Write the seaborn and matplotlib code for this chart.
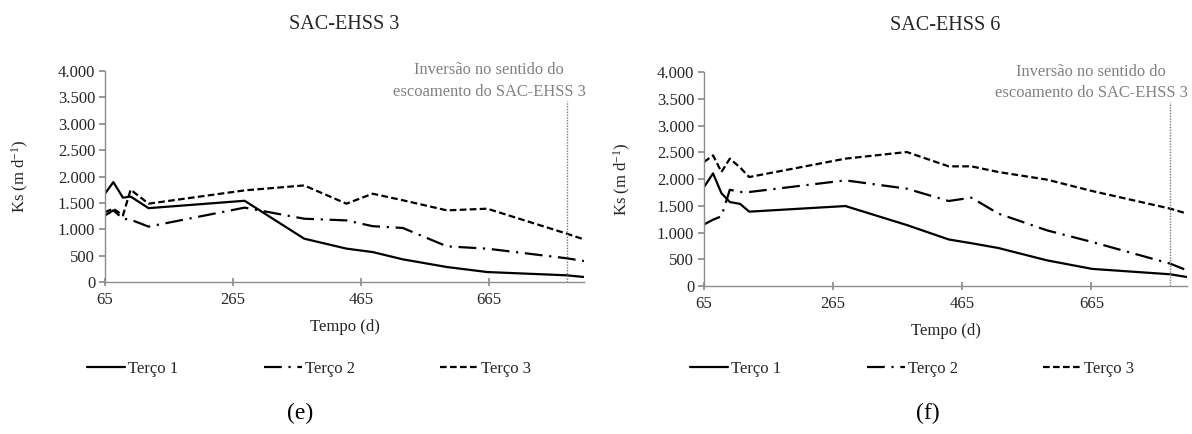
import matplotlib
matplotlib.use("Agg")
import matplotlib.pyplot as plt
import matplotlib.ticker as mticker
import seaborn as sns
import pandas as pd

# ---------------- data ----------------
series_names = ["Terço 1", "Terço 2", "Terço 3"]

days_e = [65, 78, 93, 105, 133, 283, 376, 442, 483, 530, 599, 662, 786, 813]
e_terco1 = [1675, 1894, 1598, 1620, 1400, 1540, 822, 633, 568, 430, 284, 189, 127, 95]
e_terco2 = [1263, 1358, 1200, 1182, 1050, 1410, 1200, 1168, 1058, 1025, 676, 632, 450, 398]
e_terco3 = [1326, 1390, 1263, 1750, 1485, 1737, 1831, 1485, 1674, 1550, 1358, 1390, 917, 808]

days_f = [65, 79, 92, 105, 121, 135, 284, 379, 444, 479, 521, 596, 666, 787, 813]
f_terco1 = [1850, 2105, 1735, 1570, 1535, 1390, 1495, 1140, 870, 800, 710, 480, 320, 219, 168]
f_terco2 = [1150, 1240, 1303, 1800, 1757, 1757, 1975, 1820, 1589, 1652, 1353, 1041, 823, 418, 293]
f_terco3 = [2318, 2443, 2131, 2381, 2215, 2037, 2381, 2505, 2237, 2237, 2131, 1989, 1776, 1447, 1353]

titles = ["SAC-EHSS 3", "SAC-EHSS 6"]
panel_labels = ["(e)", "(f)"]
x_ticks = [65, 265, 465, 665]
y_ticks = [0, 500, 1000, 1500, 2000, 2500, 3000, 3500, 4000]
inversion_day = 787
annotation = "Inversão no sentido do\nescoamento do SAC-EHSS 3"


def long_df(days, s1, s2, s3):
    rows = []
    for name, vals in zip(series_names, [s1, s2, s3]):
        for d, v in zip(days, vals):
            rows.append({"Tempo": d, "Ks": v, "Série": name})
    return pd.DataFrame(rows)


df_e = long_df(days_e, e_terco1, e_terco2, e_terco3)
df_f = long_df(days_f, f_terco1, f_terco2, f_terco3)

# ---------------- style ----------------
sns.set_theme(style="white")
plt.rcParams["font.family"] = ["Liberation Serif", "DejaVu Serif"]
plt.rcParams["mathtext.fontset"] = "custom"
plt.rcParams["mathtext.rm"] = "Liberation Serif"
plt.rcParams["mathtext.it"] = "Liberation Serif:italic"

TXT = "#262626"
AXC = "#8c8c8c"
W, H = 1192, 434

dashes = {"Terço 1": "", "Terço 2": (8, 3, 1, 3), "Terço 3": (3, 1.5)}
palette = {n: "black" for n in series_names}

fig = plt.figure(figsize=(11.92, 4.34), dpi=100)
ax_e = fig.add_axes([0.0881, 0.3502, 0.4018, 0.4862])
ax_f = fig.add_axes([0.5906, 0.3410, 0.4052, 0.4930])

ylabel_x = [20 / W, 622 / W]
ylabel_y = [(0.3502 + 0.8364) / 2, (0.341 + 0.834) / 2]
legend_x = [87 / W, 690 / W]

for i, (ax, df) in enumerate([(ax_e, df_e), (ax_f, df_f)]):
    sns.lineplot(data=df, x="Tempo", y="Ks", hue="Série", style="Série",
                 palette=palette, dashes=dashes, linewidth=1.6, ax=ax,
                 legend=True)
    ax.set_xlim(65, 813)
    ax.set_ylim(0, 4000)
    ax.set_xticks(x_ticks)
    ax.set_yticks(y_ticks)
    ax.yaxis.set_major_formatter(
        mticker.FuncFormatter(lambda v, p: f"{int(v):,}".replace(",", ".")))
    for s in ["top", "right"]:
        ax.spines[s].set_visible(False)
    for s in ["left", "bottom"]:
        ax.spines[s].set_color(AXC)
        ax.spines[s].set_linewidth(1.0)
    ax.tick_params(axis="y", direction="out", length=4, color=AXC,
                   labelsize=12, labelcolor=TXT, pad=3, left=True)
    ax.tick_params(axis="x", direction="inout", length=6, color=AXC,
                   labelsize=12, labelcolor=TXT, pad=4, bottom=True)
    ax.set_xlabel("Tempo (d)", fontsize=12, color=TXT, labelpad=8)
    ax.set_ylabel("")
    ax.set_title(titles[i], fontsize=14.5, color=TXT, pad=30)

    # vertical dotted line for flow inversion
    ax.axvline(inversion_day, ymin=0, ymax=0.86, color="#7a7a7a",
               linestyle=(0, (1, 1)), linewidth=1.0)
    ax.text(0.802, 0.952, annotation, transform=ax.transAxes, ha="center",
            va="center", fontsize=11.9, color="#808080", linespacing=1.45)

    # legend below
    handles, labels = ax.get_legend_handles_labels()
    ax.get_legend().remove()
    fig.legend(handles, labels, loc="center left",
               bbox_to_anchor=(legend_x[i], 1 - 369 / H), ncol=3,
               frameon=False, fontsize=12, handlelength=2.3,
               handletextpad=0.15, columnspacing=5.15, labelcolor=TXT,
               borderpad=0, borderaxespad=0)

    fig.text(ylabel_x[i], ylabel_y[i], r"Ks (m d$^{\mathregular{-1}}$)",
             rotation=90, ha="center", va="center", fontsize=12, color=TXT)

fig.text(300 / W, 1 - 413 / H, panel_labels[0], ha="center", va="center",
         fontsize=17, color="black")
fig.text(928 / W, 1 - 413 / H, panel_labels[1], ha="center", va="center",
         fontsize=17, color="black")

fig.savefig("out.png", dpi=100)
